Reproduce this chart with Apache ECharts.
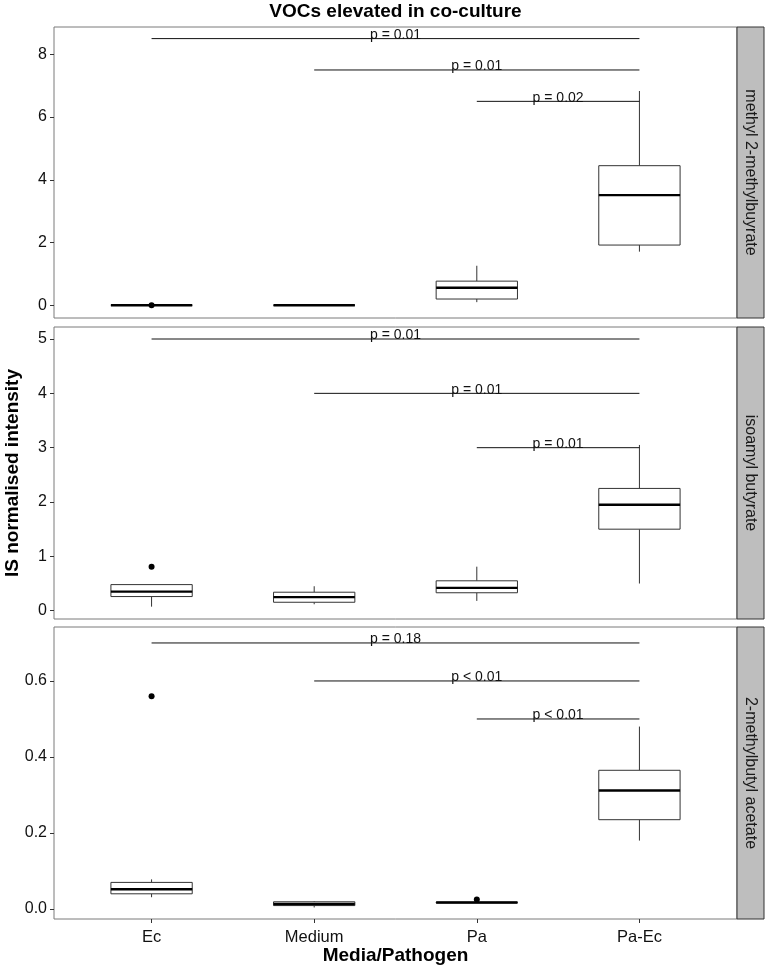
<!DOCTYPE html>
<html><head><meta charset="utf-8">
<script src="https://cdn.jsdelivr.net/npm/echarts@6/dist/echarts.min.js"></script>
<style>html,body{margin:0;padding:0;background:#fff}#c{width:767px;height:969px}</style>
</head><body><div id="c"></div>
<script>
// ---------- data ----------
const categories = ['Ec', 'Medium', 'Pa', 'Pa-Ec'];
const compounds = ['methyl 2-methylbuyrate', 'isoamyl butyrate', '2-methylbutyl acetate'];
// [min, Q1, median, Q3, max] per category
const box1 = [[0, 0, 0, 0, 0], [0, 0, 0, 0, 0], [0.10, 0.20, 0.56, 0.77, 1.26], [1.71, 1.92, 3.51, 4.45, 6.83]];
const box2 = [[0.074, 0.26, 0.35, 0.48, 0.48], [0.118, 0.155, 0.25, 0.34, 0.45], [0.18, 0.33, 0.42, 0.55, 0.81], [0.5, 1.5, 1.95, 2.25, 3.05]];
const box3 = [[0.031, 0.040, 0.052, 0.070, 0.078], [0.004, 0.009, 0.013, 0.019, 0.021], [0.016, 0.016, 0.017, 0.018, 0.018], [0.18, 0.235, 0.312, 0.365, 0.48]];
// outliers: [categoryIndex, value]
const out1 = [[0, 0.0]];
const out2 = [[0, 0.81]];
const out3 = [[0, 0.56], [2, 0.025]];
// brackets: [fromCategory, toCategory, y, label]
const br1 = [[0, 3, 8.5, 'p = 0.01'], [1, 3, 7.5, 'p = 0.01'], [2, 3, 6.5, 'p = 0.02']];
const br2 = [[0, 3, 5, 'p = 0.01'], [1, 3, 4, 'p = 0.01'], [2, 3, 3, 'p = 0.01']];
const br3 = [[0, 3, 0.7, 'p = 0.18'], [1, 3, 0.6, 'p < 0.01'], [2, 3, 0.5, 'p < 0.01']];
// y tick labels
const ticks1 = [0, 2, 4, 6, 8];
const ticks2 = [0, 1, 2, 3, 4, 5];
const ticks3 = [0, 0.2, 0.4, 0.6];
const tickDecimals = [0, 0, 1];

// ---------- layout ----------
const FONT = 'Liberation Sans, Arial, Helvetica, sans-serif';
const L = 54, R = 737;
const tops = [27, 327, 627];
const hts = [291, 292, 292];
const yMin = [-0.405, -0.153, -0.0263];
const yMax = [8.87, 5.221, 0.742];

const boxes = [box1, box2, box3];
const outs = [out1, out2, out3];
const brs = [br1, br2, br3];
const ticks = [ticks1, ticks2, ticks3];

const chart = echarts.init(document.getElementById('c'), null, {renderer: 'canvas'});

function renderBox(params, api) {
  const x = api.value(0);
  const w = api.size([0.5, 0])[0];
  const hw = w / 2;
  const pMin = api.coord([x, api.value(1)]);
  const pQ1 = api.coord([x, api.value(2)]);
  const pMed = api.coord([x, api.value(3)]);
  const pQ3 = api.coord([x, api.value(4)]);
  const pMax = api.coord([x, api.value(5)]);
  const cx = pMed[0];
  const thin = {stroke: '#333', lineWidth: 1, fill: null};
  return {
    type: 'group',
    children: [
      {type: 'line', shape: {x1: cx, y1: pMax[1], x2: cx, y2: pQ3[1]}, style: thin},
      {type: 'line', shape: {x1: cx, y1: pQ1[1], x2: cx, y2: pMin[1]}, style: thin},
      {type: 'rect', shape: {x: cx - hw, y: pQ3[1], width: w, height: pQ1[1] - pQ3[1]}, style: {stroke: '#333', lineWidth: 1, fill: '#fff'}},
      {type: 'line', shape: {x1: cx - hw, y1: pMed[1], x2: cx + hw, y2: pMed[1]}, style: {stroke: '#000', lineWidth: 2.4}}
    ]
  };
}

function renderBracket(params, api) {
  const a = api.coord([api.value(0), api.value(2)]);
  const b = api.coord([api.value(1), api.value(2)]);
  return {
    type: 'group',
    children: [
      {type: 'line', shape: {x1: a[0], y1: a[1], x2: b[0], y2: b[1]}, style: {stroke: '#111', lineWidth: 1}},
      {type: 'text', x: (a[0] + b[0]) / 2, y: a[1] + 3.5, style: {text: api.value(3), fill: '#111', font: '14px ' + FONT, align: 'center', verticalAlign: 'bottom'}}
    ]
  };
}

const grid = [], xAxis = [], yAxis = [], series = [], graphic = [];
for (let i = 0; i < 3; i++) {
  grid.push({left: L, top: tops[i], width: R - L, height: hts[i], show: true, borderColor: '#7a7a7a', borderWidth: 1, backgroundColor: '#fff', containLabel: false});
  const last = i === 2;
  xAxis.push({
    gridIndex: i, type: 'value', min: 0.4, max: 4.6, position: 'bottom',
    axisLine: {show: false, onZero: false}, splitLine: {show: false},
    axisTick: {show: last, length: 4, lineStyle: {color: '#333'}, customValues: [1, 2, 3, 4]},
    axisLabel: {show: last, customValues: [1, 2, 3, 4], formatter: v => categories[Math.round(v) - 1] || '', color: '#111', fontSize: 16.5, fontFamily: FONT, margin: 10}
  });
  yAxis.push({
    gridIndex: i, type: 'value', min: yMin[i], max: yMax[i], position: 'left',
    axisLine: {show: false, onZero: false}, splitLine: {show: false},
    axisTick: {show: true, length: 4, lineStyle: {color: '#333'}, customValues: ticks[i]},
    axisLabel: {customValues: ticks[i], formatter: v => Number(v).toFixed(tickDecimals[i]), color: '#111', fontSize: 16, fontFamily: FONT, margin: 7}
  });
  series.push({
    type: 'custom', xAxisIndex: i, yAxisIndex: i, renderItem: renderBox,
    encode: {x: 0, y: [1, 2, 3, 4, 5]},
    data: boxes[i].map((b, k) => [k + 1].concat(b)), silent: true, z: 2
  });
  series.push({
    type: 'scatter', xAxisIndex: i, yAxisIndex: i, symbolSize: 6,
    itemStyle: {color: '#000', opacity: 1}, data: outs[i].map(o => [o[0] + 1, o[1]]), silent: true, z: 3
  });
  series.push({
    type: 'custom', xAxisIndex: i, yAxisIndex: i, renderItem: renderBracket,
    encode: {x: [0, 1], y: 2},
    dimensions: ['x1', 'x2', 'y', {name: 'label', type: 'ordinal'}],
    data: brs[i].map(b => [b[0] + 1, b[1] + 1, b[2], b[3]]), silent: true, z: 4
  });
  // facet strip
  graphic.push({type: 'rect', shape: {x: R, y: tops[i], width: 27, height: hts[i]}, style: {fill: '#bebebe', stroke: '#333', lineWidth: 1}, z: 10});
  graphic.push({type: 'text', x: R + 13.5, y: tops[i] + hts[i] / 2, rotation: -Math.PI / 2,
    style: {text: compounds[i], font: '16px ' + FONT, fill: '#1a1a1a', align: 'center', verticalAlign: 'middle'}, z: 11});
}
graphic.push({type: 'text', x: (L + R) / 2, y: 12, style: {text: 'VOCs elevated in co-culture', font: 'bold 19px ' + FONT, fill: '#000', align: 'center', verticalAlign: 'middle'}});
graphic.push({type: 'text', x: (L + R) / 2, y: 956, style: {text: 'Media/Pathogen', font: 'bold 19px ' + FONT, fill: '#000', align: 'center', verticalAlign: 'middle'}});
graphic.push({type: 'text', x: 13, y: (tops[0] + tops[2] + hts[2]) / 2, rotation: Math.PI / 2, style: {text: 'IS normalised intensity', font: 'bold 19px ' + FONT, fill: '#000', align: 'center', verticalAlign: 'middle'}});

chart.setOption({animation: false, backgroundColor: '#fff', grid, xAxis, yAxis, series, graphic});
</script></body></html>
